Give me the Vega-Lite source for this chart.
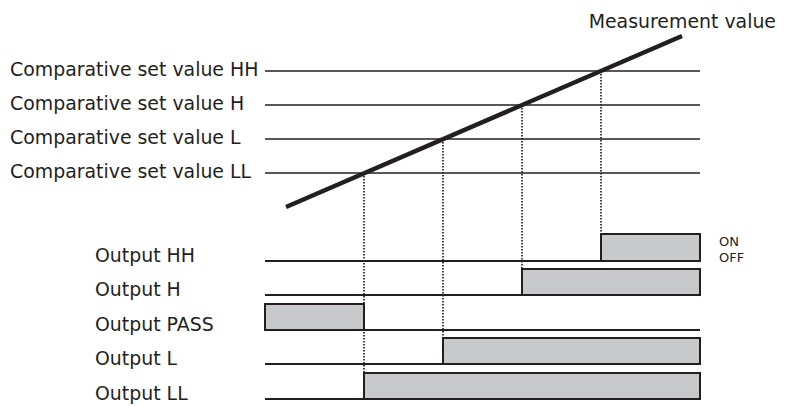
{
  "$schema": "https://vega.github.io/schema/vega-lite/v6.json",
  "width": 788,
  "height": 406,
  "autosize": {"type": "fit", "contains": "padding"},
  "padding": 0,
  "background": "white",
  "config": {"view": {"stroke": null}},
  "datasets": {
    "levels": [
      {"name": "Comparative set value HH", "t0": 265, "t1": 700, "v": 71},
      {"name": "Comparative set value H", "t0": 265, "t1": 700, "v": 105},
      {"name": "Comparative set value L", "t0": 265, "t1": 700, "v": 139},
      {"name": "Comparative set value LL", "t0": 265, "t1": 700, "v": 173}
    ],
    "measure": [
      {"t0": 286, "v0": 207, "t1": 682, "v1": 36}
    ],
    "crossings": [
      {"level": "LL", "t": 364, "v0": 173, "v1": 373},
      {"level": "L", "t": 443, "v0": 139, "v1": 338},
      {"level": "H", "t": 522, "v0": 105, "v1": 269},
      {"level": "HH", "t": 601, "v0": 71, "v1": 234}
    ],
    "outputs": [
      {"name": "Output HH", "t0": 265, "t1": 700, "off": 261, "on": 234, "onStart": 601, "onEnd": 700},
      {"name": "Output H", "t0": 265, "t1": 700, "off": 295, "on": 269, "onStart": 522, "onEnd": 700},
      {"name": "Output PASS", "t0": 265, "t1": 700, "off": 330, "on": 304, "onStart": 265, "onEnd": 364},
      {"name": "Output L", "t0": 265, "t1": 700, "off": 364, "on": 338, "onStart": 443, "onEnd": 700},
      {"name": "Output LL", "t0": 265, "t1": 700, "off": 399, "on": 373, "onStart": 364, "onEnd": 700}
    ],
    "notes": [
      {"text": "Measurement value", "t": 776, "v": 28, "anchor": "right"},
      {"text": "ON", "t": 719, "v": 246, "anchor": "left"},
      {"text": "OFF", "t": 719, "v": 261.5, "anchor": "left"}
    ]
  },
  "layer": [
    {
      "data": {"name": "levels"},
      "mark": {"type": "rule", "color": "#231f20", "strokeWidth": 1.6},
      "encoding": {
        "x": {"field": "t0", "type": "quantitative", "scale": {"domain": [0, 788], "nice": false, "zero": false}, "axis": null},
        "x2": {"field": "t1"},
        "y": {"field": "v", "type": "quantitative", "scale": {"domain": [0, 406], "nice": false, "zero": false, "reverse": true}, "axis": null}
      }
    },
    {
      "data": {"name": "levels"},
      "mark": {"type": "text", "align": "left", "baseline": "alphabetic", "dy": 4.5, "font": "DejaVu Sans", "fontSize": 18.9, "color": "#231f20"},
      "encoding": {
        "x": {"datum": 10, "type": "quantitative"},
        "y": {"field": "v", "type": "quantitative"},
        "text": {"field": "name"}
      }
    },
    {
      "data": {"name": "crossings"},
      "mark": {"type": "rule", "color": "#231f20", "strokeWidth": 1.7, "strokeDash": [1.5, 1.5]},
      "encoding": {
        "x": {"field": "t", "type": "quantitative"},
        "y": {"field": "v0", "type": "quantitative"},
        "y2": {"field": "v1"}
      }
    },
    {
      "data": {"name": "outputs"},
      "mark": {"type": "rule", "color": "#231f20", "strokeWidth": 1.8},
      "encoding": {
        "x": {"field": "t0", "type": "quantitative"},
        "x2": {"field": "t1"},
        "y": {"field": "off", "type": "quantitative"}
      }
    },
    {
      "data": {"name": "outputs"},
      "mark": {"type": "rect", "fill": "#c8c9cb", "stroke": "#231f20", "strokeWidth": 2},
      "encoding": {
        "x": {"field": "onStart", "type": "quantitative"},
        "x2": {"field": "onEnd"},
        "y": {"field": "off", "type": "quantitative"},
        "y2": {"field": "on"}
      }
    },
    {
      "data": {"name": "outputs"},
      "mark": {"type": "text", "align": "left", "baseline": "alphabetic", "dy": 1, "font": "DejaVu Sans", "fontSize": 18.9, "color": "#231f20"},
      "encoding": {
        "x": {"datum": 95, "type": "quantitative"},
        "y": {"field": "off", "type": "quantitative"},
        "text": {"field": "name"}
      }
    },
    {
      "data": {"name": "measure"},
      "mark": {"type": "rule", "color": "#231f20", "strokeWidth": 4.5},
      "encoding": {
        "x": {"field": "t0", "type": "quantitative"},
        "x2": {"field": "t1"},
        "y": {"field": "v0", "type": "quantitative"},
        "y2": {"field": "v1"}
      }
    },
    {
      "data": {"name": "notes"},
      "transform": [{"filter": "datum.anchor == 'right'"}],
      "mark": {"type": "text", "align": "right", "baseline": "alphabetic", "font": "DejaVu Sans", "fontSize": 18.9, "color": "#231f20"},
      "encoding": {
        "x": {"field": "t", "type": "quantitative"},
        "y": {"field": "v", "type": "quantitative"},
        "text": {"field": "text"}
      }
    },
    {
      "data": {"name": "notes"},
      "transform": [{"filter": "datum.anchor == 'left'"}],
      "mark": {"type": "text", "align": "left", "baseline": "alphabetic", "font": "DejaVu Sans", "fontSize": 13, "color": "#231f20"},
      "encoding": {
        "x": {"field": "t", "type": "quantitative"},
        "y": {"field": "v", "type": "quantitative"},
        "text": {"field": "text"}
      }
    }
  ]
}
